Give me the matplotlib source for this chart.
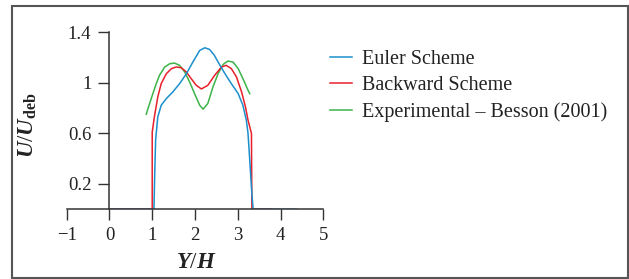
import matplotlib
matplotlib.use('Agg')
import matplotlib.pyplot as plt
from matplotlib.patches import Rectangle

plt.rcParams['font.family'] = 'Liberation Serif'
plt.rcParams['mathtext.fontset'] = 'custom'
plt.rcParams['mathtext.it'] = 'Liberation Serif:italic:bold'
plt.rcParams['mathtext.bf'] = 'Liberation Serif:bold'
plt.rcParams['mathtext.rm'] = 'Liberation Serif'

# Euler scheme (blue)
euler_x = [0.0, 1.04, 1.06, 1.08, 1.13, 1.21, 1.33, 1.48, 1.64, 1.80, 1.95, 2.11, 2.23, 2.34, 2.45,
           2.54, 2.70, 2.85, 3.01, 3.12, 3.20, 3.24, 3.28, 3.33, 3.36, 4.37]
euler_y = [0.0, 0.0, 0.30, 0.55, 0.73, 0.823, 0.876, 0.928, 0.994, 1.073, 1.165, 1.257, 1.278, 1.265, 1.22,
           1.165, 1.073, 0.994, 0.915, 0.823, 0.705, 0.60, 0.39, 0.12, 0.0, 0.0]

# Backward scheme (red)
back_x = [0.0, 1.0, 1.0, 1.05, 1.13, 1.21, 1.33, 1.45, 1.56, 1.68, 1.80, 1.91, 2.03, 2.15, 2.30,
          2.46, 2.62, 2.73, 2.85, 2.97, 3.09, 3.18, 3.24, 3.32, 3.33, 3.8]
back_y = [0.0, 0.0, 0.61, 0.73, 0.889, 0.994, 1.073, 1.113, 1.126, 1.12, 1.086, 1.034, 0.981, 0.952, 0.981,
          1.06, 1.126, 1.139, 1.113, 1.047, 0.928, 0.81, 0.705, 0.60, 0.0, 0.0]

# Experimental - Besson (2001) (green)
exp_x = [0.86, 0.94, 1.015, 1.094, 1.17, 1.29, 1.41, 1.52, 1.64, 1.76, 1.875, 1.99, 2.11, 2.19,
         2.30, 2.42, 2.54, 2.66, 2.77, 2.89, 3.01, 3.12, 3.24, 3.28]
exp_y = [0.752, 0.837, 0.915, 0.994, 1.06, 1.125, 1.152, 1.157, 1.139, 1.086, 1.007, 0.915, 0.823, 0.792,
         0.837, 0.968, 1.073, 1.147, 1.173, 1.165, 1.113, 1.034, 0.942, 0.915]

xticks = [-1, 0, 1, 2, 3, 4, 5]
xticklabels = ['\u22121', '0', '1', '2', '3', '4', '5']
yticks = [0.2, 0.6, 1.0, 1.4]
yticklabels = ['0.2', '0.6', '1', '1.4']

fig = plt.figure(figsize=(6.29, 2.79), dpi=100)
ax = fig.add_axes([0.106, 0.250, 0.408, 0.634])

ax.plot(exp_x, exp_y, color='#3cb44a', lw=1.1, label='Experimental \u2013 Besson (2001)')
ax.plot(back_x, back_y, color='#e8202a', lw=1.1, label='Backward Scheme')
ax.plot(euler_x, euler_y, color='#1b8fcc', lw=1.1, label='Euler Scheme')

ax.set_xlim(-1, 5)
ax.set_ylim(0, 1.4)
ax.spines['top'].set_visible(False)
ax.spines['right'].set_visible(False)
ax.spines['left'].set_position(('data', 0))
for s in ['left', 'bottom']:
    ax.spines[s].set_color('#333333')
    ax.spines[s].set_linewidth(1.1)
ax.set_xticks(xticks)
ax.set_xticklabels(xticklabels)
ax.set_yticks(yticks)
ax.set_yticklabels(yticklabels)
ax.tick_params(direction='out', length=8, width=1.0, color='#333333',
               labelsize=13.5, labelcolor='#222222', pad=5)

handles, labels = ax.get_legend_handles_labels()
order = [2, 1, 0]
fig.legend([handles[i] for i in order], [labels[i] for i in order],
           loc='upper left', bbox_to_anchor=(330 / 629, 1 - 50 / 279), frameon=False,
           borderpad=0, borderaxespad=0,
           fontsize=14.5, handlelength=1.1, handletextpad=0.5, labelspacing=0.36,
           labelcolor='#222222')

fig.text(196 / 629, 1 - 262 / 279, r'$Y/H$', ha='center', va='center', fontsize=16.5, color='#222222')
fig.text(28 / 629, 1 - 125 / 279, r'$U/U_{\mathbf{deb}}$', ha='center', va='center',
         rotation=90, fontsize=16.5, color='#222222')

fig.patches.append(Rectangle((12 / 629, 1 / 279), 616 / 629, 272 / 279, transform=fig.transFigure,
                             fill=False, edgecolor='#555555', lw=1.5))

fig.savefig('out.png', dpi=100)
